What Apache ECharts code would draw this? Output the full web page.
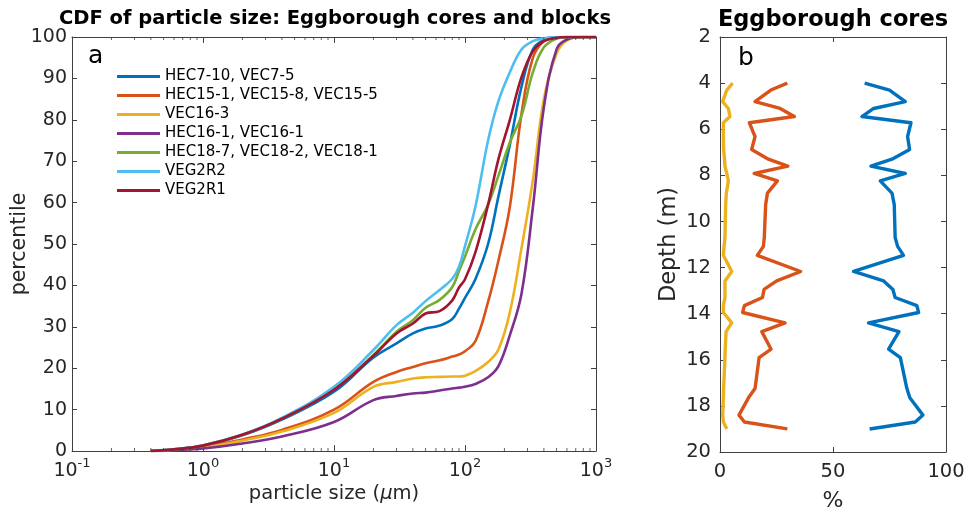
<!DOCTYPE html>
<html>
<head>
<meta charset="utf-8">
<script src="https://cdn.jsdelivr.net/npm/echarts@6.0.0/dist/echarts.min.js"></script>
<style>
  html, body { margin: 0; padding: 0; background: #fff; }
  #chart { width: 966px; height: 507px; }
</style>
</head>
<body>
<div id="chart"></div>
<script>
// Panel a: cumulative particle-size distributions (percentile vs size, µm)
const sizes = [0.4, 0.6, 1, 2, 4, 10, 20, 30, 40, 50, 64, 80, 90, 100, 120, 150, 180, 220, 270, 330, 400, 500, 600, 800, 1000];
const hec7  = [0, 0.4, 1.2, 3.8, 7.6, 14.3, 22.6, 26.0, 28.4, 29.6, 30.3, 31.9, 34.4, 37.0, 41.5, 50.0, 61.5, 74.0, 88.0, 97.0, 99.3, 99.9, 100, 100, 100];
const hec15 = [0, 0.3, 0.9, 2.8, 5.1, 10.0, 16.7, 19.1, 20.3, 21.2, 21.9, 22.8, 23.3, 24.1, 26.5, 36.0, 46.0, 59.0, 81.5, 95.0, 99.0, 99.8, 100, 100, 100];
const vec16 = [0, 0.3, 0.8, 2.5, 4.7, 9.2, 15.5, 16.7, 17.5, 17.8, 17.9, 18.0, 18.0, 18.2, 19.3, 21.5, 24.5, 33.5, 49.0, 65.5, 85.0, 96.0, 99.2, 100, 100];
const hec16 = [0, 0.2, 0.6, 1.8, 3.5, 7.0, 12.3, 13.3, 13.9, 14.1, 14.6, 15.1, 15.3, 15.5, 16.2, 17.8, 20.5, 28.0, 38.0, 59.0, 83.0, 97.0, 99.4, 100, 100];
const hec18 = [0, 0.4, 1.3, 3.9, 7.8, 15.0, 23.2, 28.8, 31.6, 34.6, 36.5, 39.6, 43.5, 47.0, 53.5, 59.5, 66.5, 74.5, 81.0, 91.5, 97.5, 99.6, 100, 100, 100];
const veg2r2 = [0, 0.4, 1.4, 4.0, 8.0, 15.5, 24.4, 30.4, 33.4, 36.2, 38.9, 41.6, 44.5, 49.5, 59.0, 75.0, 84.5, 91.5, 97.0, 99.0, 99.7, 100, 100, 100, 100];
const veg2r1 = [0, 0.4, 1.3, 3.9, 7.8, 14.8, 23.0, 28.4, 30.8, 33.2, 33.8, 36.4, 39.5, 41.5, 48.0, 59.5, 70.5, 80.0, 90.3, 96.6, 99.0, 99.8, 100, 100, 100];
const curveNames = ['HEC7-10, VEC7-5', 'HEC15-1, VEC15-8, VEC15-5', 'VEC16-3', 'HEC16-1, VEC16-1',
                    'HEC18-7, VEC18-2, VEC18-1', 'VEG2R2', 'VEG2R1'];
const curveValues = [hec7, hec15, vec16, hec16, hec18, veg2r2, veg2r1];
// minor ticks of the logarithmic size axis
const minorSizes = [0.2, 0.3, 0.4, 0.5, 0.6, 0.7, 0.8, 0.9, 2, 3, 4, 5, 6, 7, 8, 9,
                    20, 30, 40, 50, 60, 70, 80, 90, 200, 300, 400, 500, 600, 700, 800, 900];

// Panel b: composition of the Eggborough cores with depth (%)
const depths = [4.0, 4.3, 4.8, 5.1, 5.45, 5.72, 6.32, 6.88, 7.3, 7.6, 7.92, 8.24, 8.77, 9.27, 10.7, 11.08,
                11.47, 12.17, 12.58, 12.95, 13.3, 13.65, 13.95, 14.4, 14.78, 15.54, 15.91, 17.25, 17.65, 18.4, 18.7, 19.0];
const pctBlue = [64.0, 75.0, 82.0, 68.0, 62.8, 84.5, 83.0, 83.9, 76.1, 66.8, 82.0, 70.9, 76.1, 77.1, 77.5, 78.6,
                 81.2, 59.1, 72.4, 76.5, 77.5, 87.1, 87.9, 65.7, 79.2, 74.6, 79.8, 82.7, 84.0, 89.8, 86.4, 66.2];
const pctOrange = [29.8, 22.5, 15.5, 26.6, 32.9, 13.0, 15.5, 14.0, 21.4, 30.0, 15.1, 25.4, 21.0, 20.2, 19.6, 19.2,
                   16.5, 35.7, 25.1, 19.5, 18.8, 10.8, 10.0, 28.8, 18.5, 22.6, 17.3, 15.5, 12.6, 8.4, 10.8, 29.8];
const pctYellow = [5.6, 3.0, 1.2, 3.7, 4.4, 1.5, 1.5, 1.6, 2.0, 2.2, 3.0, 3.7, 2.8, 2.5, 2.2, 1.8,
                   1.5, 5.2, 2.2, 2.2, 2.2, 1.5, 1.5, 5.2, 2.7, 2.3, 2.2, 1.6, 1.5, 1.2, 1.5, 3.0];

const palette = ['#0072BD', '#D95319', '#EDB120', '#7E2F8E', '#77AC30', '#4DBEEE', '#A2142F'];
const FONT = 'DejaVu Sans';
const TXT = '#262626';
const LINE = '#404040';

const chart = echarts.init(document.getElementById('chart'), null, { renderer: 'canvas' });

function boxAxis(extra) {
  return Object.assign({
    axisLine: { show: true, onZero: false, lineStyle: { color: LINE, width: 1 } },
    axisTick: { show: true, inside: true, length: 5, lineStyle: { color: LINE } },
    splitLine: { show: false },
    axisLabel: { show: false },
    nameMoveOverlap: false
  }, extra);
}

const xLabelRich = {
  b: { fontFamily: FONT, fontSize: 19, color: TXT, verticalAlign: 'bottom', lineHeight: 24 },
  s: { fontFamily: FONT, fontSize: 13, color: TXT, verticalAlign: 'top', lineHeight: 24 }
};

const series = curveValues.map((vals, k) => ({
  name: curveNames[k],
  type: 'line',
  xAxisIndex: 0, yAxisIndex: 0,
  data: sizes.map((s, i) => [s, vals[i]]),
  showSymbol: false,
  smooth: 0.4,
  lineStyle: { width: 2.6, color: palette[k] },
  itemStyle: { color: palette[k] },
  z: 3
}));

// minor log ticks on the bottom and top edges of panel a
series.push({
  type: 'scatter', xAxisIndex: 0, yAxisIndex: 0, silent: true, clip: false,
  data: minorSizes.map(s => [s, 0]),
  symbol: 'rect', symbolSize: [1, 3], symbolOffset: [0, -1.5],
  itemStyle: { color: LINE }, z: 4
});
series.push({
  type: 'scatter', xAxisIndex: 0, yAxisIndex: 0, silent: true, clip: false,
  data: minorSizes.map(s => [s, 100]),
  symbol: 'rect', symbolSize: [1, 3], symbolOffset: [0, 1.5],
  itemStyle: { color: LINE }, z: 4
});

[[pctBlue, palette[0]], [pctOrange, palette[1]], [pctYellow, palette[2]]].forEach(([vals, col]) => {
  series.push({
    type: 'line', xAxisIndex: 2, yAxisIndex: 2,
    data: depths.map((d, i) => [vals[i], d]),
    showSymbol: false,
    lineStyle: { width: 3.4, color: col, join: 'round' },
    itemStyle: { color: col },
    z: 3
  });
});

chart.setOption({
  animation: false,
  backgroundColor: '#ffffff',
  grid: [
    { left: 72, top: 37, width: 524, height: 414, containLabel: false, outerBoundsMode: 'none' },
    { left: 720, top: 37, width: 226, height: 415, containLabel: false, outerBoundsMode: 'none' }
  ],
  legend: {
    data: curveNames,
    orient: 'vertical',
    left: 117, top: 67, padding: 0,
    icon: 'rect',
    itemWidth: 43, itemHeight: 3, itemGap: 0,
    textStyle: { fontFamily: FONT, fontSize: 15, color: '#000', lineHeight: 19 },
    selectedMode: false
  },
  xAxis: [
    boxAxis({
      type: 'log', logBase: 10, min: 0.1, max: 1000, gridIndex: 0, position: 'bottom',
      axisTick: { show: true, inside: true, length: 6, lineStyle: { color: LINE } },
      axisLabel: {
        show: true, margin: 6,
        formatter: v => '{b|10}{s|' + Math.round(Math.log10(v)) + '}',
        rich: xLabelRich
      },
      name: '{t|particle size (}{m|μ}{t|m)}',
      nameLocation: 'middle', nameGap: 33,
      nameTextStyle: {
        rich: {
          t: { fontFamily: FONT, fontSize: 19.5, color: TXT },
          m: { fontFamily: FONT, fontSize: 19.5, color: TXT, fontStyle: 'italic' }
        }
      }
    }),
    boxAxis({
      type: 'log', logBase: 10, min: 0.1, max: 1000, gridIndex: 0, position: 'top',
      axisTick: { show: true, inside: true, length: 6, lineStyle: { color: LINE } }
    }),
    boxAxis({
      type: 'value', min: 0, max: 100, interval: 50, gridIndex: 1, position: 'bottom',
      axisLabel: { show: true, margin: 10, fontFamily: FONT, fontSize: 19.5, color: TXT },
      name: '%', nameLocation: 'middle', nameGap: 38,
      nameTextStyle: { fontFamily: FONT, fontSize: 22, color: TXT }
    }),
    boxAxis({ type: 'value', min: 0, max: 100, interval: 50, gridIndex: 1, position: 'top' })
  ],
  yAxis: [
    boxAxis({
      type: 'value', min: 0, max: 100, interval: 10, gridIndex: 0, position: 'left',
      axisLabel: { show: true, margin: 5, fontFamily: FONT, fontSize: 19, color: TXT },
      name: 'percentile', nameLocation: 'middle', nameGap: 42, nameRotate: 90,
      nameTextStyle: { fontFamily: FONT, fontSize: 20.5, color: TXT }
    }),
    boxAxis({ type: 'value', min: 0, max: 100, interval: 10, gridIndex: 0, position: 'right' }),
    boxAxis({
      type: 'value', min: 2, max: 20, interval: 2, inverse: true, gridIndex: 1, position: 'left',
      axisLabel: { show: true, margin: 9, fontFamily: FONT, fontSize: 19.5, color: TXT },
      name: 'Depth (m)', nameLocation: 'middle', nameGap: 39, nameRotate: 90,
      nameTextStyle: { fontFamily: FONT, fontSize: 22.5, color: TXT }
    }),
    boxAxis({ type: 'value', min: 2, max: 20, interval: 2, inverse: true, gridIndex: 1, position: 'right' })
  ],
  graphic: [
    { type: 'text', x: 335, y: 19, z: 10,
      style: { text: 'CDF of particle size: Eggborough cores and blocks', fontFamily: FONT, fontWeight: 'bold',
               fontSize: 19.5, fill: '#000', align: 'center', verticalAlign: 'middle' } },
    { type: 'text', x: 833, y: 20, z: 10,
      style: { text: 'Eggborough cores', fontFamily: FONT, fontWeight: 'bold',
               fontSize: 22.5, fill: '#000', align: 'center', verticalAlign: 'middle' } },
    { type: 'text', x: 88, y: 56, z: 10,
      style: { text: 'a', fontFamily: FONT, fontSize: 25, fill: '#000', align: 'left', verticalAlign: 'middle' } },
    { type: 'text', x: 738, y: 58, z: 10,
      style: { text: 'b', fontFamily: FONT, fontSize: 25, fill: '#000', align: 'left', verticalAlign: 'middle' } }
  ],
  series: series
});
</script>
</body>
</html>
